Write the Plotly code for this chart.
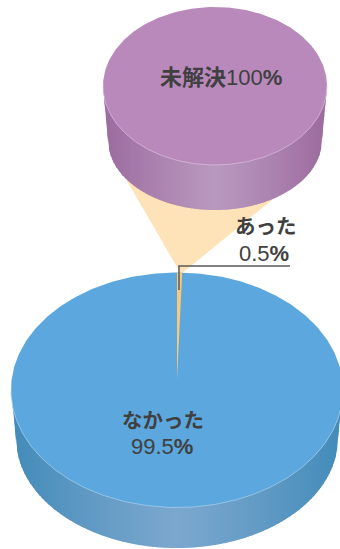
import numpy as np
import plotly.graph_objects as go

# Breakdown of the lower pie and the exploded detail pie
categories = ["なかった", "あった"]
shares = [99.5, 0.5]
detail_category = "未解決"
detail_share = [100]

W, H = 340, 549
FONT = "Liberation Sans, Arial, Noto Sans CJK JP"
INK = "#404040"

LOWER = dict(cx=177, cy=390, rx=166, ry=117.5, apex_y=380,
             cx2=177, cy2=438, rx2=161, ry2=110,
             top="#5CA7DD", edge="#428BB9", mid="#7BA7CE", rim="#A9D2EE")
UPPER = dict(cx=215, cy=86, rx=112, ry=79,
             cx2=215, cy2=140, rx2=107, ry2=70,
             top="#B989BC", edge="#9B6A9E", mid="#B898BE", rim="#DCC0DC")
SLICE_COLOR = "#F9C878"
CONE_COLOR = "#FFE3B8"


def hex_rgb(c):
    return np.array([int(c[i:i + 2], 16) for i in (1, 3, 5)], dtype=float)


def blend(a, b, t):
    v = hex_rgb(a) * (1 - t) + hex_rgb(b) * t
    return "rgb({:.0f},{:.0f},{:.0f})".format(*v)


def polygon(xs, ys, color):
    return go.Scatter(x=list(xs), y=list(ys), mode="lines", fill="toself",
                      fillcolor=color, line=dict(width=0, color=color),
                      hoverinfo="skip", showlegend=False)


def top_y(p, x):
    u = np.clip((x - p["cx"]) / p["rx"], -1, 1)
    return p["cy"] + p["ry"] * np.sqrt(1 - u * u)


def bottom_y(p, x):
    dx = abs(x - p["cx2"])
    if dx <= p["rx2"]:
        return p["cy2"] + p["ry2"] * np.sqrt(1 - (dx / p["rx2"]) ** 2)
    # Taper of the wall between the lower and upper rims
    k = (dx - p["rx2"]) / (p["rx"] - p["rx2"])
    return p["cy2"] + (p["cy"] - p["cy2"]) * min(k, 1)


def cylinder_wall(p):
    # Vertical strips give the wall its horizontal shading
    traces = []
    xs = np.arange(p["cx"] - p["rx"], p["cx"] + p["rx"], 1.5)
    for x0 in xs:
        x1 = min(x0 + 2.2, p["cx"] + p["rx"])
        t = abs((x0 + 0.75 - p["cx"]) / p["rx"])
        color = blend(p["mid"], p["edge"], min(t ** 1.15, 1))
        traces.append(polygon(
            [x0, x1, x1, x0],
            [top_y(p, x0) - 1, top_y(p, x1) - 1, bottom_y(p, x1), bottom_y(p, x0)],
            color))
    return traces


def disc(p):
    a = np.linspace(0, 2 * np.pi, 361)
    return polygon(p["cx"] + p["rx"] * np.cos(a), p["cy"] + p["ry"] * np.sin(a), p["top"])


def front_rim(p):
    # Thin highlight where the top face meets the wall
    a = np.linspace(0, np.pi, 181)
    return go.Scatter(x=p["cx"] + p["rx"] * np.cos(a), y=p["cy"] + p["ry"] * np.sin(a),
                      mode="lines", line=dict(color=p["rim"], width=0.7),
                      hoverinfo="skip", showlegend=False)


def sector(p, share):
    # Clockwise from twelve o'clock, angle taken from the share of the whole
    sweep = 2 * np.pi * share / sum(shares)
    a = np.linspace(0, sweep, 12)
    xs = p["cx"] + p["rx"] * np.sin(a)
    ys = p["cy"] - p["ry"] * np.cos(a)
    return polygon([p["cx"], *xs], [p["apex_y"], *ys], SLICE_COLOR)


fig = go.Figure()

# Connector from the small slice up to the detail pie
fig.add_trace(polygon([181, 112, 282], [274, 155, 192], CONE_COLOR))

for tr in cylinder_wall(LOWER):
    fig.add_trace(tr)
fig.add_trace(disc(LOWER))
fig.add_trace(front_rim(LOWER))
fig.add_trace(sector(LOWER, shares[1]))

for tr in cylinder_wall(UPPER):
    fig.add_trace(tr)
fig.add_trace(disc(UPPER))
fig.add_trace(front_rim(UPPER))

# Leader line for the small slice
fig.add_trace(go.Scatter(x=[290, 179, 179], y=[266, 266, 290], mode="lines",
                         line=dict(color="#5A5A5A", width=1.5),
                         hoverinfo="skip", showlegend=False))


def label(x, y, text, size=22):
    fig.add_annotation(x=x, y=y, text=text, showarrow=False, xanchor="center",
                       yanchor="middle", font=dict(family=FONT, size=size, color=INK))


label(221, 77, f"<b>{detail_category}</b>{detail_share[0]}<b>%</b>")
label(163, 420, f"<b>{categories[0]}</b>", size=20.5)
label(162, 446, f"{shares[0]}<b>%</b>")
label(266, 226, f"<b>{categories[1]}</b>", size=20.5)
label(264, 253, f"{shares[1]}<b>%</b>")

fig.update_xaxes(range=[0, W], visible=False, fixedrange=True)
fig.update_yaxes(range=[H, 0], visible=False, fixedrange=True)
fig.update_layout(width=W, height=H, margin=dict(l=0, r=0, t=0, b=0),
                  paper_bgcolor="white", plot_bgcolor="white", showlegend=False)
fig.write_html("out.html", config=dict(displayModeBar=False))
